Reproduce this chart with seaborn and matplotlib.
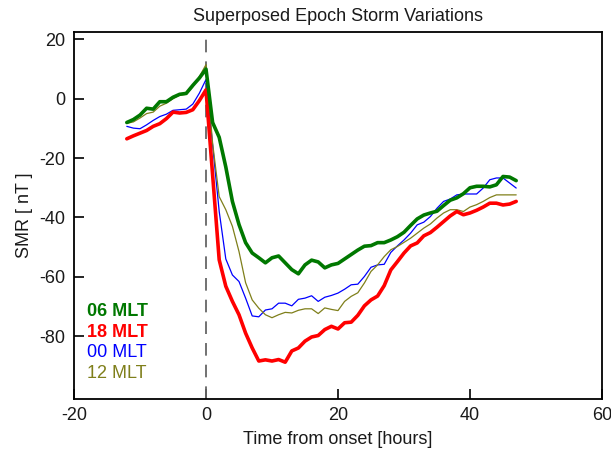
import numpy as np
import pandas as pd
import matplotlib
matplotlib.use("Agg")
import matplotlib.pyplot as plt
import seaborn as sns

hours = list(range(-12, 48))

mlt06 = [-8, -7, -5.5, -3.2, -3.5, -1, -1, 0.5, 1.5, 1.8, 4.5, 7, 10,
         -8, -13, -23, -34.6, -42.4, -48.5, -52, -53.6, -55.3, -53.6, -53, -55.3, -57.6, -59,
         -56, -54.4, -55, -57, -56, -55.5, -54, -52.5, -51, -49.7, -49.5, -48.5,
         -48.5, -47.6, -46.5, -45, -42.7, -40.5, -39.2, -38.5, -37.9, -36, -34.2, -33.4,
         -32, -30, -29.5, -29.5, -29.7, -29, -26.2, -26.4, -27.6]

mlt18 = [-13.5, -12.5, -11.6, -10.7, -9.3, -8.4, -6.7, -4.5, -4.8, -4.6, -3.7, -0.6, 3,
         -25.6, -54.3, -63.2, -68.3, -72.8, -79, -84, -88.4, -88, -88.4, -87.9, -88.8, -85, -84,
         -81.7, -80.3, -79.8, -77.8, -76.7, -77.6, -75.5, -75.3, -73, -69.8, -67.8, -66.5,
         -63, -57.7, -54.9, -52, -49.6, -48.6, -46.2, -45.1, -43.3, -41.4, -39.5, -38,
         -39.1, -38.5, -37.6, -36.5, -35.2, -35.2, -35.8, -35.5, -34.6]

mlt00 = [-9.3, -9.9, -10.1, -8.8, -7.3, -6, -5.2, -3.9, -3.7, -3.5, -1.8, 1.9, 6.5,
         -15.5, -38, -54, -59.4, -61.6, -67.2, -73.2, -73.5, -71.2, -70.8, -68.9, -68.9, -69.8, -67.6,
         -67.2, -66.4, -68.3, -66.9, -66.3, -65.5, -64.2, -62.7, -62.5, -59.9, -56.8, -56,
         -55.8, -51.8, -49.6, -47.6, -45.3, -42.5, -41.6, -39.7, -36.9, -34.6, -33.8, -32.4,
         -32.1, -32.1, -32.1, -30.1, -27.3, -26.7, -26.7, -28.4, -30.1]

mlt12 = [-8.3, -7.8, -6.5, -5, -4.5, -2.5, -1.5, 0, 1.2, 1.5, 4, 7.5, 11.5,
         -15, -33, -37.4, -43, -51.5, -62, -67.8, -70.6, -72.8, -73.8, -72.8, -72, -72.2, -71.3,
         -70.8, -70.8, -72.4, -70.5, -71, -71.4, -68.3, -66.6, -65.4, -62.1, -58.2, -56,
         -53.2, -50.9, -49.8, -48.4, -47, -45.3, -43.6, -42.2, -40.2, -38.5, -37.4, -37.4,
         -38, -36.5, -35.7, -34.6, -33.3, -32.4, -32.4, -32.4, -32.4]

series_labels = ["06 MLT", "18 MLT", "00 MLT", "12 MLT"]
series_values = [mlt06, mlt18, mlt00, mlt12]
series_colors = ["#007800", "#ff0000", "#0000ff", "#7f7f1a"]
series_widths = [2.6, 2.6, 0.9, 0.9]
series_weights = ["bold", "bold", "normal", "normal"]

x_ticks = [-20, 0, 20, 40, 60]
y_ticks = [-80, -60, -40, -20, 0, 20]

sns.set_theme(style="white")
plt.rcParams['font.family'] = ['Liberation Sans', 'DejaVu Sans']
plt.rcParams['text.color'] = '#1a1a1a'
plt.rcParams['axes.labelcolor'] = '#1a1a1a'
plt.rcParams['xtick.color'] = '#1a1a1a'
plt.rcParams['ytick.color'] = '#1a1a1a'

fs = 13

fig = plt.figure(figsize=(6.11, 4.53), dpi=100)
ax = fig.add_axes([74 / 611, 1 - 399 / 453, 528 / 611, 367 / 453])

ax.axvline(0, color="#666666", lw=1.3, dashes=(7, 5), zorder=1)

for i in [2, 3, 1, 0]:
    df = pd.DataFrame({"hours": hours, "smr": series_values[i]})
    sns.lineplot(data=df, x="hours", y="smr", ax=ax, color=series_colors[i],
                 lw=series_widths[i], zorder=3 if series_widths[i] > 2 else 2,
                 solid_joinstyle="round")

ax.set_xlim(-20, 60)
ax.set_ylim(-101.2, 22.5)
ax.set_xticks(x_ticks)
ax.set_yticks(y_ticks)
ax.set_xticklabels([str(t) for t in x_ticks], fontsize=fs)
ax.set_yticklabels([str(t) for t in y_ticks], fontsize=fs)
ax.tick_params(direction="in", length=7, width=1.2, color="black",
               bottom=True, left=True, top=False, right=False, pad=6)
for s in ax.spines.values():
    s.set_color("black")
    s.set_linewidth(1.3)

ax.set_xlabel("Time from onset [hours]", fontsize=fs, labelpad=5)
ax.set_ylabel("SMR [ nT ]", fontsize=fs, labelpad=5)
ax.set_title("Superposed Epoch Storm Variations", fontsize=fs, pad=8)

ys = [0.238, 0.182, 0.127, 0.070]
for lab, col, wt, yy in zip(series_labels, series_colors, series_weights, ys):
    ax.text(0.025, yy, lab, transform=ax.transAxes, color=col, fontweight=wt,
            fontsize=fs, va="center", ha="left")

fig.savefig("out.png", dpi=100)
